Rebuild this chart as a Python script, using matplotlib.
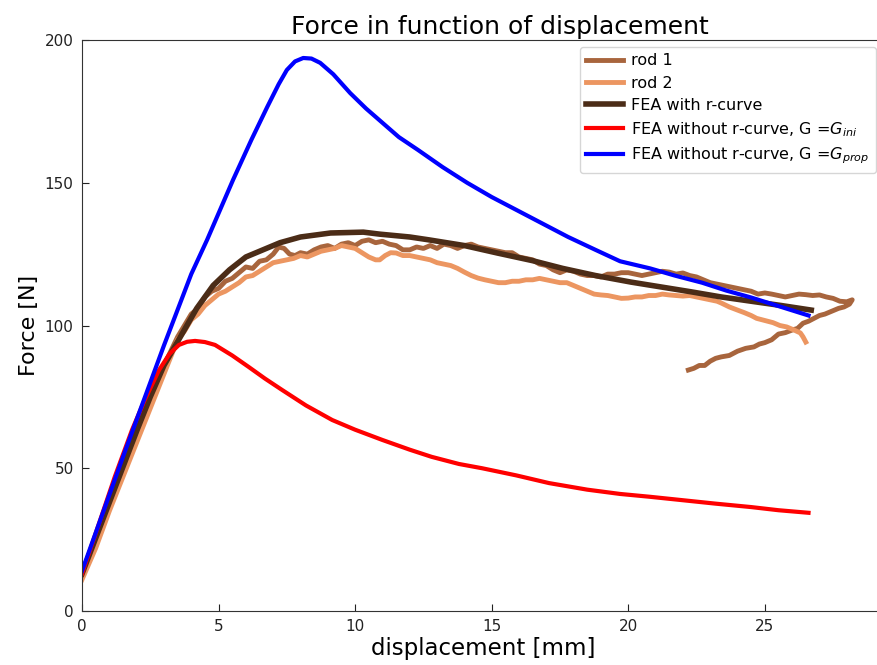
import matplotlib
matplotlib.use("Agg")
import matplotlib.pyplot as plt

# ---- data (displacement in mm, force in N) ----
rod1_x = [0, 0.5, 1, 1.5, 2, 2.5, 3.0, 3.25, 3.5, 3.75, 4.0, 4.25, 4.5, 4.75, 5.0, 5.25,
          5.5, 5.75, 6.0, 6.25, 6.5, 6.75, 7.0, 7.2, 7.4, 7.6, 7.8, 8.0, 8.25, 8.5, 8.75,
          9.0, 9.25, 9.5, 9.75, 10.0, 10.25, 10.5, 10.75, 11.0, 11.25, 11.5, 11.75, 12.0,
          12.25, 12.5, 12.75, 13.0, 13.25, 13.5, 13.75, 14.0, 14.25, 14.5, 14.75, 15.0,
          15.25, 15.5, 15.75, 16.0, 16.25, 16.5, 16.75, 17.0, 17.25, 17.5, 17.75, 18.0,
          18.25, 18.5, 18.75, 19.0, 19.25, 19.5, 19.75, 20.0, 20.25, 20.5, 20.75, 21.0,
          21.25, 21.5, 21.75, 22.0, 22.25, 22.5, 22.75, 23.0, 23.25, 23.5, 23.75, 24.0,
          24.25, 24.5, 24.75, 25.0, 25.25, 25.5, 25.75, 26.0, 26.25, 26.5, 26.75, 27.0,
          27.25, 27.5, 27.75, 28.0, 28.2,
          28.1, 27.9, 27.7, 27.45, 27.2, 27.0, 26.8, 26.6, 26.4, 26.2, 26.0, 25.75, 25.5,
          25.25, 25.0, 24.8, 24.6, 24.3, 24.0, 23.7, 23.4, 23.2, 23.0, 22.8, 22.6, 22.4,
          22.2]
rod1_y = [12, 24, 37, 49, 62, 74, 86, 91, 96, 100, 104, 106, 110, 112, 113, 115.5,
          116.5, 118.5, 120.5, 120, 122.5, 123, 125, 127.5, 127, 125, 124.5, 125.5, 125,
          126.5, 127.5, 128, 127, 128.5, 129, 128, 129.5, 130, 129, 129.5, 128.5, 128,
          126.5, 126.5, 127.5, 127, 128, 127, 128.5, 128, 127, 128, 128.5, 127.5, 127,
          126.5, 126, 125.5, 125.5, 124, 123.5, 123, 121.5, 121, 119.5, 118.5, 119.5,
          119, 118, 117.5, 117.5, 117, 118, 118, 118.5, 118.5, 118, 117.5, 118, 118.5,
          119, 118.7, 118, 118.4, 117.5, 117, 116, 115, 114.5, 114, 113.5, 113, 112.5,
          112, 111, 111.4, 111, 110.5, 110, 110.5, 111, 110.8, 110.5, 110.7, 110, 109.5,
          108.5, 108.3, 109,
          107.5, 106.5, 106, 105, 104, 103.5, 102.5, 101.5, 100.8, 99, 98.4, 97.5, 97,
          95, 94, 93.5, 92.5, 92, 91, 89.5, 89, 88.5, 87.5, 86, 86, 85, 84.4]

rod2_x = [0, 0.5, 1, 1.5, 2, 2.5, 3.0, 3.25, 3.5, 3.75, 4.0, 4.25, 4.5, 4.75, 5.0, 5.25,
          5.5, 5.75, 6.0, 6.25, 6.5, 6.75, 7.0, 7.25, 7.5, 7.75, 8.0, 8.25, 8.5, 8.75,
          9.0, 9.25, 9.5, 9.75, 10.0, 10.25, 10.5, 10.75, 10.9, 11.1, 11.3, 11.5, 11.75,
          12.0, 12.25, 12.5, 12.75, 13.0, 13.25, 13.5, 13.75, 14.0, 14.25, 14.5, 14.75,
          15.0, 15.25, 15.5, 15.75, 16.0, 16.25, 16.5, 16.75, 17.0, 17.25, 17.5, 17.75,
          18.0, 18.25, 18.5, 18.75, 19.0, 19.25, 19.5, 19.75, 20.0, 20.25, 20.5, 20.75,
          21.0, 21.25, 21.5, 21.75, 22.0, 22.25, 22.5, 22.75, 23.0, 23.25, 23.4, 23.7,
          24.0, 24.25, 24.5, 24.7, 24.9, 25.1, 25.3, 25.55, 25.8, 26.05, 26.3, 26.4,
          26.5]
rod2_y = [11, 22, 35, 47, 59, 71, 83, 89, 95, 98, 102, 104, 107, 109, 111, 112, 113.5,
          115, 117, 117.5, 119, 120.5, 122, 122.5, 123, 123.5, 124.5, 124, 125, 126,
          126.5, 127, 128, 127.5, 127, 125.5, 124, 123, 123, 124.5, 125.5, 125.4, 124.5,
          124.5, 124, 123.5, 123, 122, 121.5, 121, 120, 118.7, 117.5, 116.6, 116, 115.5,
          115, 115, 115.5, 115.5, 116, 116, 116.5, 116, 115.5, 115, 115, 114, 113, 112,
          111, 110.7, 110.5, 110, 109.5, 109.6, 110, 110, 110.5, 110.5, 111, 110.7,
          110.5, 110.3, 110.5, 110, 109.5, 109, 108.5, 107.9, 106.5, 105.4, 104.5, 103.5,
          102.5, 102, 101.5, 101, 100, 99.5, 98.5, 97.4, 96, 94.2]

fea_r_x = [0, 1, 2, 2.5, 3, 3.6, 4.2, 4.8, 5.4, 6, 7.25, 8, 9.1, 10.3, 10.9, 12, 12.7,
           14, 15.2, 16.5, 17.6, 18.8, 20.1, 21.2, 22.3, 23.4, 24.5, 25.6, 26.7]
fea_r_y = [13, 38, 63, 75, 86, 96, 106, 114, 119.5, 124, 129, 131, 132.4, 132.7, 132,
           131, 130, 128, 125.4, 122.7, 120, 117.5, 115.2, 113.5, 111.8, 110, 108.5,
           107, 105.4]

fea_ini_x = [0, 0.6, 1.2, 1.83, 2.3, 2.82, 3.2, 3.55, 3.85, 4.14, 4.5, 4.87, 5.5, 6.1,
             6.7, 7.33, 8.2, 9.16, 10, 11, 12, 12.8, 13.8, 14.65, 15.9, 17.1, 18.5, 19.7,
             20.8, 22, 23.2, 24.5, 25.5, 26.6]
fea_ini_y = [13, 30, 47, 63.4, 74, 84.4, 90, 93.2, 94.3, 94.6, 94.2, 93.2, 89.5, 85.5,
             81.4, 77.4, 72, 66.9, 63.5, 59.9, 56.5, 54, 51.5, 50, 47.5, 44.8, 42.5, 41,
             40, 38.8, 37.6, 36.4, 35.3, 34.4]

fea_prop_x = [0, 1.5, 3.0, 4.0, 4.58, 5.53, 6.2, 6.78, 7.2, 7.5, 7.8, 8.1, 8.4, 8.72,
              9.2, 9.82, 10.4, 11, 11.6, 12.3, 13.2, 14.1, 15, 15.9, 16.8, 17.8, 18.8,
              19.7, 20.8, 21.7, 22.7, 23.6, 24.5, 25.5, 26.6]
fea_prop_y = [14, 54, 93, 118, 130, 151, 165, 176.5, 184.5, 189.5, 192.5, 193.7, 193.5,
              192, 188, 181.4, 176, 171, 166, 161.5, 155.5, 150, 145, 140.5, 136, 131,
              126.5, 122.5, 120, 117.5, 115, 112.2, 109.8, 106.8, 103.5]

fig = plt.figure(figsize=(8.77, 6.65), dpi=100)
ax = fig.add_axes([82 / 877, 54 / 665, 803 / 877, 571 / 665])

ax.plot(rod1_x, rod1_y, color="#a8653d", lw=3.5, label="rod 1")
ax.plot(rod2_x, rod2_y, color="#ec9661", lw=3.5, label="rod 2")
ax.plot(fea_r_x, fea_r_y, color="#4b2c17", lw=4, label="FEA with r-curve")
ax.plot(fea_ini_x, fea_ini_y, color="#ff0000", lw=3,
        label="FEA without r-curve, G =$G_{ini}$")
ax.plot(fea_prop_x, fea_prop_y, color="#0000ff", lw=3,
        label="FEA without r-curve, G =$G_{prop}$")

ax.set_xlim(0, 29.4)
ax.set_ylim(0, 200)
ax.set_xticks([0, 5, 10, 15, 20, 25])
ax.set_yticks([0, 50, 100, 150, 200])
ax.tick_params(direction="in", length=5, labelsize=11, pad=6, colors="#222222")
for s in ax.spines.values():
    s.set_color("#333333")
ax.spines["right"].set_visible(False)   # cut off in the reference

ax.set_xlabel("displacement [mm]", fontsize=16.5, labelpad=2)
ax.set_ylabel("Force [N]", fontsize=16, labelpad=4)
ax.set_title("Force in function of displacement", fontsize=18, x=0.52, pad=4)
ax.legend(loc="upper left", bbox_to_anchor=(580 / 877, 1 - 47 / 665),
          bbox_transform=fig.transFigure, borderaxespad=0,
          fontsize=11.5, handlelength=2.3, handletextpad=0.5, labelspacing=0.45)

fig.savefig("out.png", dpi=100)
